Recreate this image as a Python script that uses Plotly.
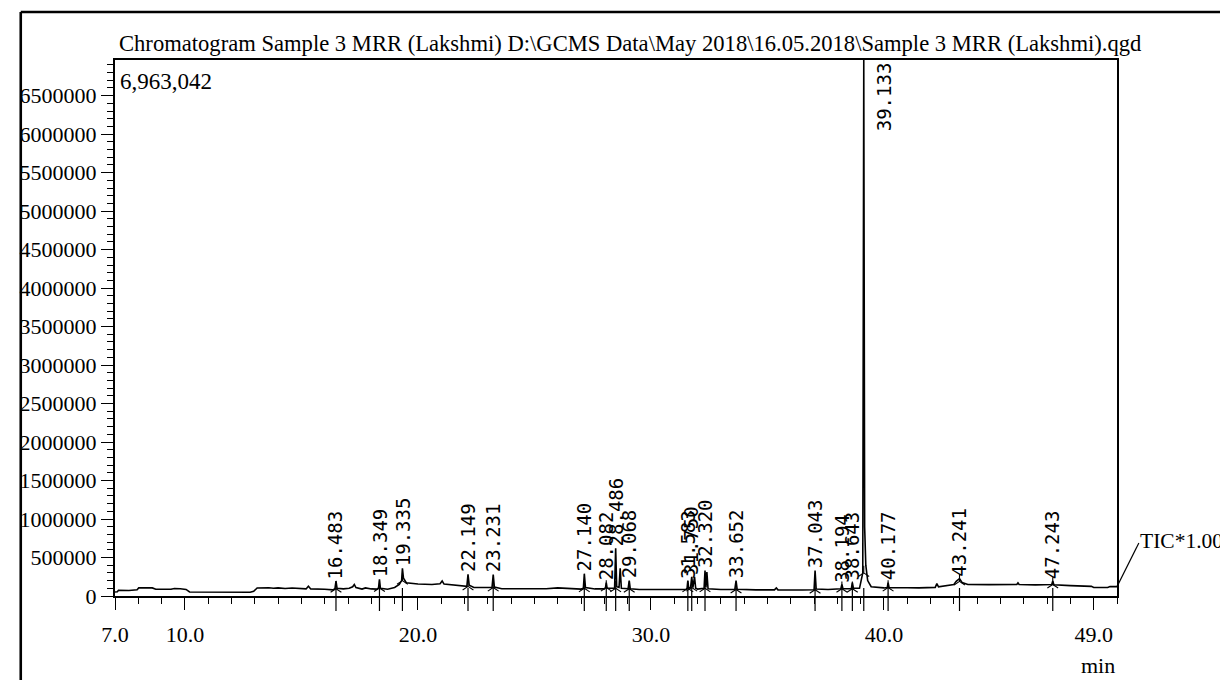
import plotly.graph_objects as go

# ---------------- data ----------------
rt = [7.00, 7.10, 7.15, 7.60, 7.95, 8.02, 8.60, 8.75, 9.40, 9.55, 9.80, 10.05, 10.20, 11.50, 12.80,
      12.95, 13.10, 13.60, 13.80, 14.00, 14.30, 14.60, 15.00, 15.20, 15.30, 15.40, 16.00, 16.35, 16.44,
      16.483, 16.53, 16.80, 17.05, 17.20, 17.27, 17.34, 17.60, 17.75, 18.00, 18.25, 18.31, 18.349, 18.39,
      18.70, 19.00, 19.20, 19.30, 19.335, 19.38, 19.50, 20.00, 20.60, 20.95, 21.04, 21.12, 21.50, 22.00,
      22.10, 22.149, 22.20, 22.40, 23.00, 23.18, 23.231, 23.28, 23.60, 24.50, 25.00, 25.50, 26.00, 26.60,
      27.00, 27.10, 27.140, 27.19, 27.60, 28.00, 28.05, 28.082, 28.12, 28.44, 28.486, 28.53, 28.63, 28.68,
      28.73, 29.02, 29.068, 29.11, 29.50, 30.50, 31.00, 31.50, 31.55, 31.583, 31.62, 31.70, 31.750, 31.80,
      31.87, 31.92, 32.00, 32.28, 32.320, 32.36, 32.40, 32.45, 33.00, 33.60, 33.652, 33.70, 34.50, 35.30,
      35.38, 35.45, 36.50, 37.00, 37.043, 37.09, 37.60, 38.15, 38.194, 38.24, 38.60, 38.643, 38.69, 38.95,
      39.09, 39.133, 39.17, 39.22, 39.30, 39.45, 40.00, 40.14, 40.177, 40.22, 41.00, 41.50, 42.20, 42.27,
      42.34, 42.60, 43.00, 43.10, 43.241, 43.35, 43.60, 44.50, 45.70, 45.75, 45.80, 46.50, 47.20, 47.243,
      47.29, 48.00, 48.90, 49.00, 49.60, 49.70, 50.00]
tic = [52000, 55000, 75000, 72000, 80000, 108000, 105000, 88000, 88000, 98000, 95000, 85000, 52000, 48000, 48000,
       60000, 105000, 108000, 100000, 106000, 98000, 104000, 95000, 92000, 128000, 92000, 88000, 80000, 95000,
       195000, 100000, 92000, 100000, 120000, 150000, 110000, 90000, 105000, 92000, 90000, 105000, 216000, 100000,
       88000, 110000, 150000, 200000, 360000, 230000, 172000, 155000, 150000, 160000, 195000, 155000, 140000, 120000,
       125000, 280000, 140000, 110000, 105000, 110000, 280000, 115000, 95000, 92000, 100000, 95000, 105000, 100000,
       90000, 100000, 290000, 110000, 92000, 92000, 110000, 175000, 100000, 100000, 620000, 120000, 110000, 360000,
       100000, 95000, 200000, 95000, 85000, 85000, 88000, 85000, 100000, 200000, 100000, 110000, 250000, 110000,
       250000, 100000, 90000, 100000, 330000, 110000, 310000, 95000, 85000, 85000, 200000, 88000, 80000, 80000,
       105000, 80000, 78000, 82000, 330000, 90000, 85000, 95000, 150000, 95000, 95000, 175000, 100000, 100000,
       300000, 6963042, 900000, 400000, 200000, 120000, 105000, 110000, 175000, 108000, 108000, 105000, 112000, 160000,
       120000, 135000, 150000, 190000, 225000, 175000, 150000, 148000, 150000, 170000, 150000, 145000, 150000, 195000,
       145000, 135000, 125000, 110000, 110000, 122000, 122000]

peak_labels = ["16.483", "18.349", "19.335", "22.149", "23.231", "27.140", "28.082", "28.486", "29.068",
               "31.583", "31.750", "32.320", "33.652", "37.043", "38.194", "38.643", "39.133", "40.177",
               "43.241", "47.243"]

x_tickvals = [7, 10, 20, 30, 40, 49]
x_ticktext = ["7.0", "10.0", "20.0", "30.0", "40.0", "49.0"]
y_tickvals = [0, 500000, 1000000, 1500000, 2000000, 2500000, 3000000, 3500000, 4000000,
              4500000, 5000000, 5500000, 6000000, 6500000]
y_ticktext = [str(v) for v in y_tickvals]
y_max = 6963042

title_text = r"Chromatogram Sample 3 MRR (Lakshmi) D:\GCMS Data\May 2018\16.05.2018\Sample 3 MRR (Lakshmi).qgd"

# ---------------- layout geometry ----------------
# The page body adds an 8 px margin, so the figure is 8 px smaller and all
# screen positions below are given in window pixels.
BODY = 8
W, H = 1228 - BODY, 680 - BODY
X_LEFT, X_RIGHT, Y_TOP, Y_BOTTOM = 107, 1117, 60, 596          # plot box in window pixels
L, T = X_LEFT - BODY, Y_TOP - BODY
R, B = 1228 - X_RIGHT, 680 - Y_BOTTOM
PW, PH = X_RIGHT - X_LEFT, Y_BOTTOM - Y_TOP


def px(xs):
    return (xs - X_LEFT) / PW


def py(ys):
    return (Y_BOTTOM - ys) / PH


serif = "Liberation Serif"
mono = "DejaVu Sans Mono"

fig = go.Figure()
fig.add_trace(go.Scatter(x=rt, y=tic, mode="lines", line=dict(color="black", width=1.6),
                         hoverinfo="skip", showlegend=False))

annotations = []
shapes = []
mark_x, mark_y = [], []

# peak labels and peak marker ticks
for lab in peak_labels:
    t = float(lab)
    i = min(range(len(rt)), key=lambda k: abs(rt[k] - t))
    h = tic[i]
    mark_x.append(t)
    mark_y.append(tic[i - 1])
    if h >= y_max:
        annotations.append(dict(x=t, y=1, xref="x", yref="paper", text=lab, textangle=-90,
                                xanchor="center", yanchor="top", xshift=20, showarrow=False,
                                font=dict(family=mono, size=19, color="black")))
    else:
        annotations.append(dict(x=t, y=h, xref="x", yref="y", text=lab, textangle=-90,
                                xanchor="center", yanchor="bottom", showarrow=False,
                                font=dict(family=mono, size=19, color="black")))
    shapes.append(dict(type="line", xref="x", yref="paper", x0=t, x1=t, y0=-15 / PH, y1=8 / PH,
                       line=dict(color="black", width=1.2)))

# small peak-start marks at the baseline
fig.add_trace(go.Scatter(x=mark_x, y=mark_y, mode="markers",
                         marker=dict(symbol="y-up-open", size=9, color="black",
                                     line=dict(color="black", width=1.1)),
                         hoverinfo="skip", showlegend=False, cliponaxis=False))

# title
annotations.append(dict(x=px(109), y=py(44), xref="paper", yref="paper", text=title_text,
                        xanchor="left", yanchor="middle", showarrow=False,
                        font=dict(family=serif, size=22.6, color="black")))
# max value
annotations.append(dict(x=px(110), y=py(82), xref="paper", yref="paper", text="6,963,042",
                        xanchor="left", yanchor="middle", showarrow=False,
                        font=dict(family=serif, size=23, color="black")))
# TIC label
annotations.append(dict(x=px(1138), y=py(541), xref="paper", yref="paper", text="TIC*1.00",
                        xanchor="left", yanchor="middle", showarrow=False,
                        font=dict(family=serif, size=21.5, color="black")))
# min
annotations.append(dict(x=1.0, y=py(665), xref="paper", yref="paper", text="min",
                        xanchor="right", yanchor="middle", showarrow=False,
                        font=dict(family=serif, size=22, color="black")))

# slash from trace end to TIC label
shapes.append(dict(type="line", xref="paper", yref="paper", x0=1.0, y0=tic[-1] / y_max,
                   x1=px(1139), y1=py(543), line=dict(color="black", width=1.2)))
# outer frame
shapes.append(dict(type="line", xref="paper", yref="paper", x0=px(12), y0=py(12), x1=px(1240), y1=py(12),
                   line=dict(color="black", width=2.6)))
shapes.append(dict(type="line", xref="paper", yref="paper", x0=px(12), y0=py(12), x1=px(12), y1=py(690),
                   line=dict(color="black", width=2.6)))

fig.update_layout(
    width=W, height=H,
    margin=dict(l=L, r=R, t=T, b=B),
    paper_bgcolor="white", plot_bgcolor="white",
    showlegend=False,
    annotations=annotations,
    shapes=shapes,
    xaxis=dict(range=[7, 50], tickmode="array", tickvals=x_tickvals, ticktext=x_ticktext,
               ticks="outside", ticklen=12, tickwidth=1.4, tickcolor="black",
               showline=True, linecolor="black", linewidth=1.5, mirror=True,
               showgrid=False, zeroline=False, ticklabelstandoff=6,
               tickfont=dict(family=serif, size=22, color="black"),
               minor=dict(tickmode="linear", tick0=7, dtick=1, ticks="outside", ticklen=6,
                          tickwidth=1.2, tickcolor="black", showgrid=False)),
    yaxis=dict(range=[0, y_max], tickmode="array", tickvals=y_tickvals, ticktext=y_ticktext,
               ticks="outside", ticklen=12, tickwidth=1.4, tickcolor="black",
               showline=True, linecolor="black", linewidth=2, mirror=True,
               showgrid=False, zeroline=False,
               tickfont=dict(family=serif, size=22, color="black"),
               minor=dict(tickmode="linear", tick0=0, dtick=100000, ticks="outside", ticklen=6,
                          tickwidth=1.2, tickcolor="black", showgrid=False)),
)

fig.write_html("out.html")
